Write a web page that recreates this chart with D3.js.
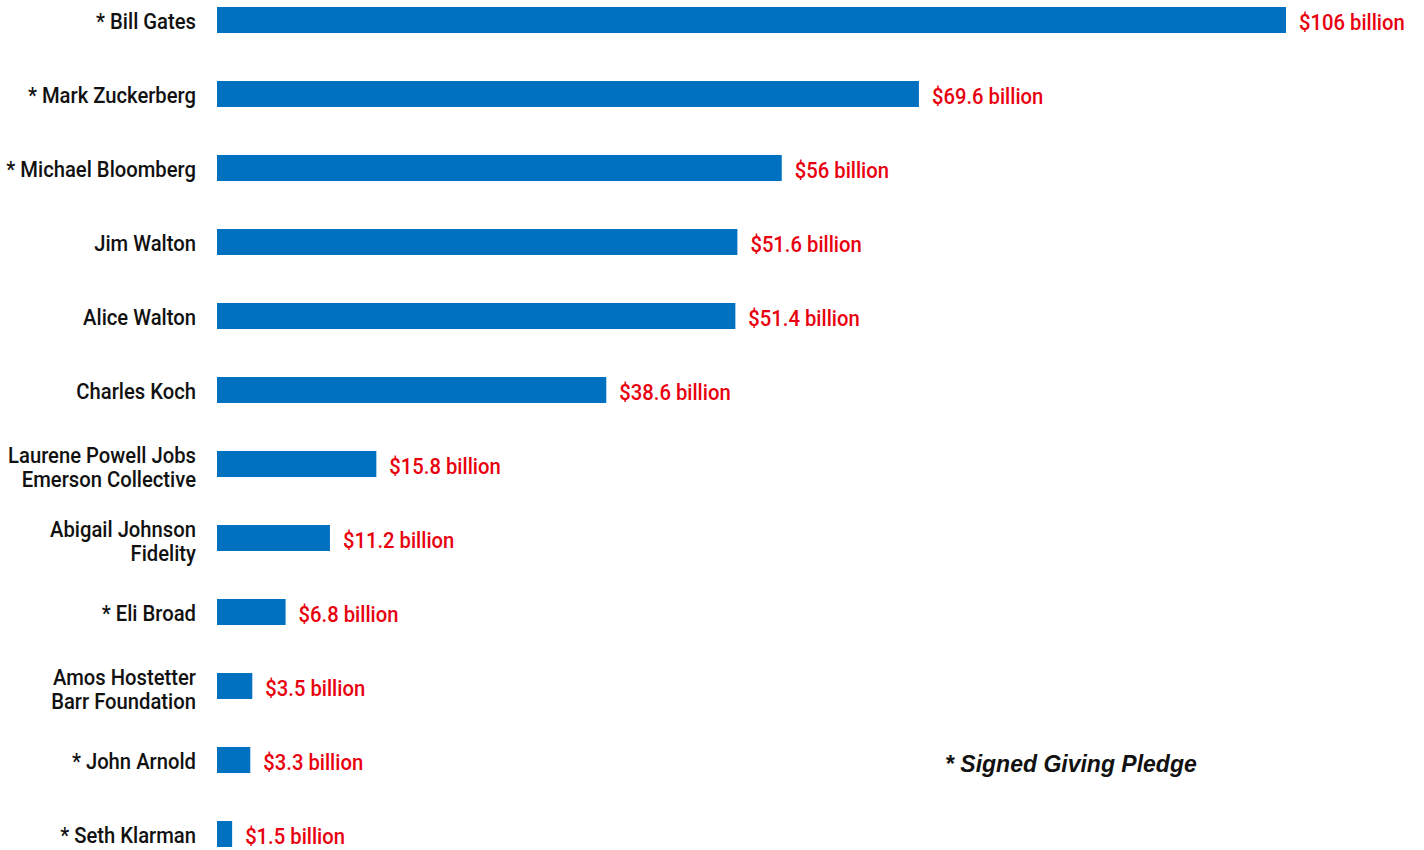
<!DOCTYPE html>
<html>
<head>
<meta charset="utf-8">
<script src="https://cdn.jsdelivr.net/npm/d3@7"></script>
<style>
  body { margin: 0; background: #fff; }
  text { font-family: Roboto, "Liberation Sans", sans-serif; font-weight: 500; }
</style>
</head>
<body>
<div id="chart"></div>
<script>
// names (multi-line labels split with "\n")
var names = ["* Bill Gates", "* Mark Zuckerberg", "* Michael Bloomberg", "Jim Walton",
             "Alice Walton", "Charles Koch", "Laurene Powell Jobs\nEmerson Collective",
             "Abigail Johnson\nFidelity", "* Eli Broad", "Amos Hostetter\nBarr Foundation",
             "* John Arnold", "* Seth Klarman"];
var values = [106, 69.6, 56, 51.6, 51.4, 38.6, 15.8, 11.2, 6.8, 3.5, 3.3, 1.5];
var valueLabels = ["$106 billion", "$69.6 billion", "$56 billion", "$51.6 billion",
                   "$51.4 billion", "$38.6 billion", "$15.8 billion", "$11.2 billion",
                   "$6.8 billion", "$3.5 billion", "$3.3 billion", "$1.5 billion"];
var note = "* Signed Giving Pledge";

var width = 1424, height = 850;
var squeeze = 0.92; // condensed look

var data = names.map(function (n, i) {
    return {name: n, value: values[i], label: valueLabels[i]};
});

var svg = d3.select("#chart").append("svg")
    .attr("width", width)
    .attr("height", height);

var x = d3.scaleLinear().domain([0, 106]).range([217, 1286]);
var y = d3.scaleBand()
    .domain(names)
    .range([-17, 871])
    .paddingInner(48 / 74)
    .paddingOuter(24 / 74);

svg.selectAll("rect.bar")
    .data(data)
    .enter().append("rect")
    .attr("class", "bar")
    .attr("x", x(0))
    .attr("y", function (d) { return y(d.name); })
    .attr("width", function (d) { return x(d.value) - x(0); })
    .attr("height", y.bandwidth())
    .attr("fill", "#0070c0");

// value labels
svg.selectAll("text.val")
    .data(data)
    .enter().append("text")
    .attr("class", "val")
    .attr("transform", function (d) {
        return "translate(" + (x(d.value) + 13) + "," + (y(d.name) + y.bandwidth() / 2 + 10) + ") scale(" + squeeze + ",1)";
    })
    .attr("fill", "#e8000f")
    .style("font-size", "22px")
    .text(function (d) { return d.label; });

// name labels
var lab = svg.selectAll("text.name")
    .data(data)
    .enter().append("text")
    .attr("class", "name")
    .attr("text-anchor", "end")
    .attr("fill", "#111")
    .style("font-size", "22px")
    .attr("transform", function (d) {
        var lines = d.name.split("\n").length;
        var cy = y(d.name) + y.bandwidth() / 2;
        return "translate(196," + (lines > 1 ? cy - 1 : cy + 9) + ") scale(" + squeeze + ",1)";
    });

lab.selectAll("tspan")
    .data(function (d) { return d.name.split("\n"); })
    .enter().append("tspan")
    .attr("x", 0)
    .attr("dy", function (d, i) { return i === 0 ? 0 : 24; })
    .text(function (d) { return d; });

svg.append("text")
    .attr("x", 945)
    .attr("y", 772)
    .style("font-family", "'Liberation Sans', Arial, sans-serif")
    .style("font-style", "italic")
    .style("font-weight", "bold")
    .style("font-size", "23px")
    .attr("fill", "#111")
    .text(note);
</script>
</body>
</html>
